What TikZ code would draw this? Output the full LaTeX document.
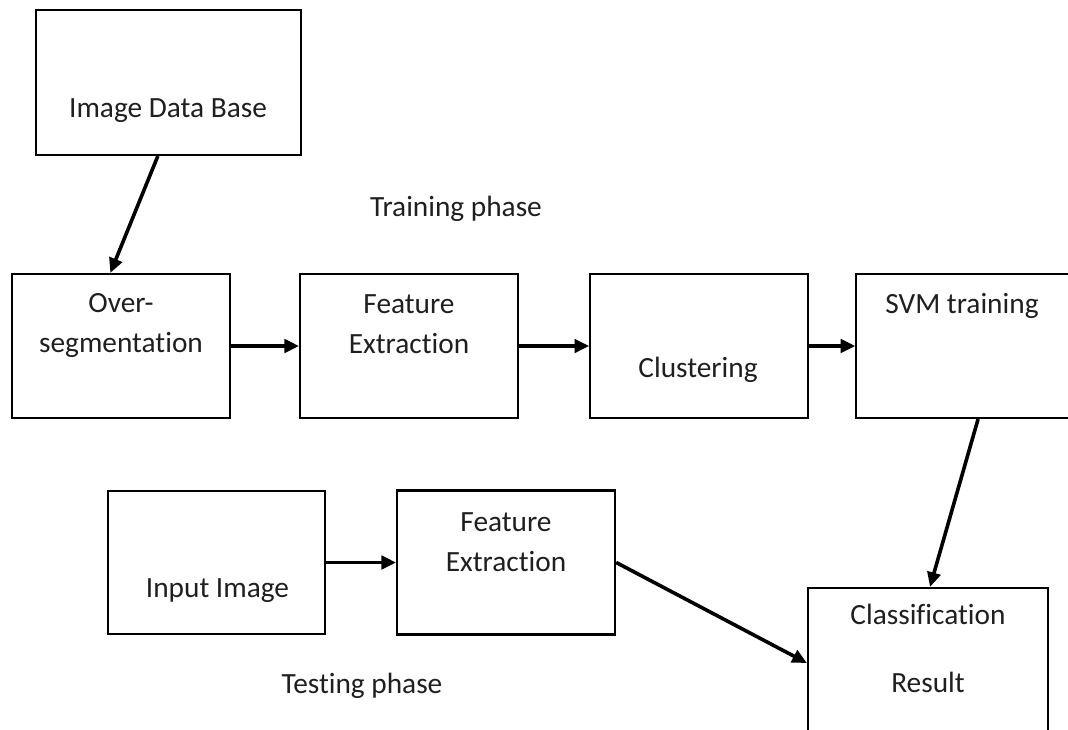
\documentclass[tikz,border=0pt]{standalone}
\usepackage{fontspec}
\setmainfont[Ligatures=NoCommon]{Carlito}
\usetikzlibrary{positioning}
\usetikzlibrary{arrows.meta}
\tikzstyle{flow edge}=[-{Triangle[length=11pt,width=10pt]},line width=2.7pt]
\tikzstyle{stage box}=[draw,line width=1.6pt,minimum width=163.5pt,minimum height=108pt]
\tikzstyle{stage label}=[align=center,text=black!88,inner sep=0pt,font=\fontsize{22}{30}\selectfont]
\newcommand{\stagebox}[2][]{
  \node [stage box, #1] (#2) {}
}
\newcommand{\stagetext}[3][]{
  \node [stage label, anchor=base, #1] (#2) {#3}
}

\begin{document}
\begin{tikzpicture}[x=0.75pt,y=-0.75pt,node distance=52.5pt]
        \path[use as bounding box,clip] (0,0) rectangle (1068,729);
        % training phase
        \stagebox[minimum width=198.75pt,minimum height=108.75pt,at={(168.5,82.5)}]{db};
        \stagebox[at={(121,346)}]{overseg};
        \stagebox[right=51pt of overseg]{feat1};
        \stagebox[right=of feat1]{clus};
        \stagebox[right=34.5pt of clus,minimum width=172.5pt]{svm};
        % testing phase
        \stagebox[minimum width=162.75pt,minimum height=107.25pt,at={(216.5,562.5)}]{input};
        \stagebox[right=of input]{feat2};
        \stagebox[minimum width=180pt,minimum height=112.5pt,at={(928,663)}]{result};

        \stagetext[at={(168,117)}]{tdb}{Image Data Base};
        \stagetext[at={(121,352)}]{tover}{Over-\\segmentation};
        \stagetext[at={(409,353)}]{tfeat1}{Feature\\Extraction};
        \stagetext[at={(698,377)}]{tclus}{Clustering};
        \stagetext[at={(962,313)}]{tsvm}{SVM training};
        \stagetext[at={(217.5,597)}]{tinput}{Input Image};
        \stagetext[at={(506,571)}]{tfeat2}{Feature\\Extraction};
        \stagetext[at={(928,692)}]{tresult}{Classification\\[21pt]Result};
        \stagetext[at={(456,216)}]{ttrain}{Training phase};
        \stagetext[at={(362,693)}]{ttest}{Testing phase};

      \draw[flow edge] ([xshift=-8pt]db.south) -- ([xshift=-8pt]overseg.north);
      \draw[flow edge] (overseg) -- (feat1);
      \draw[flow edge] (feat1) -- (clus);
      \draw[flow edge] (clus) -- (svm);
      \draw[flow edge] ([xshift=5pt]svm.south) -- ([xshift=1.5pt]result.north);
      \draw[flow edge] (input) -- (feat2);
      \draw[flow edge] (feat2.east) -- (result.west);

      \end{tikzpicture}
\end{document}
